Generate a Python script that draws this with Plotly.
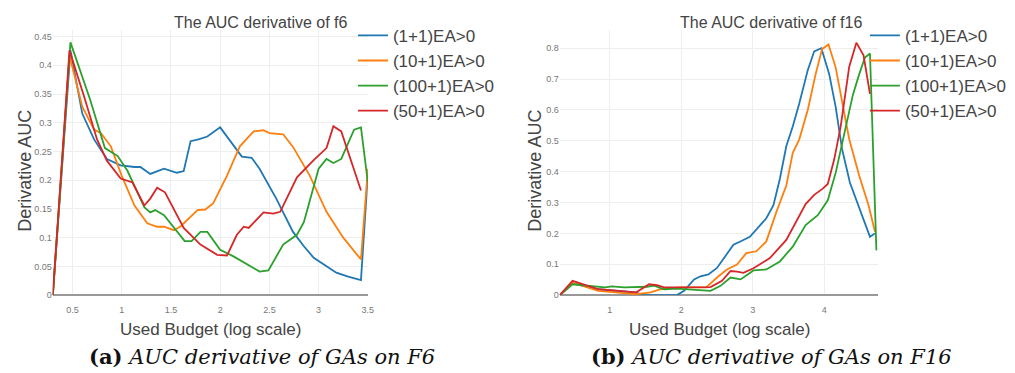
import plotly.graph_objects as go

W, H = 1015, 373

names = ["(1+1)EA>0", "(10+1)EA>0", "(100+1)EA>0", "(50+1)EA>0"]
colors = ["#1f77b4", "#ff7f0e", "#2ca02c", "#d62728"]

# ---------- f6 (left) ----------
f6_x_11 = [0.301, 0.48, 0.60, 0.72, 0.85, 0.99, 1.13, 1.19, 1.29, 1.43, 1.56, 1.63, 1.70, 1.78, 1.87,
           2.0, 2.22, 2.32, 2.40, 2.57, 2.74, 2.85, 2.95, 3.05, 3.18, 3.30, 3.43, 3.5]
f6_y_11 = [0, 0.426, 0.316, 0.271, 0.237, 0.226, 0.223, 0.223, 0.211, 0.22, 0.213, 0.216, 0.268, 0.271, 0.276,
           0.292, 0.241, 0.239, 0.22, 0.168, 0.11, 0.085, 0.065, 0.053, 0.039, 0.032, 0.026, 0.21]

f6_x_101 = [0.301, 0.47, 0.60, 0.72, 0.79, 0.89, 1.0, 1.13, 1.26, 1.36, 1.43, 1.53, 1.60, 1.77, 1.85, 1.93,
            2.07, 2.20, 2.34, 2.44, 2.50, 2.64, 2.74, 2.91, 3.08, 3.25, 3.43, 3.5]
f6_y_101 = [0, 0.417, 0.328, 0.288, 0.282, 0.259, 0.208, 0.156, 0.125, 0.119, 0.119, 0.113, 0.12, 0.148, 0.149, 0.16,
            0.208, 0.259, 0.285, 0.287, 0.282, 0.28, 0.258, 0.208, 0.145, 0.1, 0.062, 0.22]

f6_x_1001 = [0.301, 0.48, 0.68, 0.83, 0.96, 1.06, 1.23, 1.29, 1.34, 1.43, 1.64, 1.71, 1.80, 1.87, 2.0, 2.14,
             2.40, 2.49, 2.64, 2.78, 2.85, 3.0, 3.08, 3.15, 3.23, 3.36, 3.43, 3.5]
f6_y_1001 = [0, 0.44, 0.34, 0.256, 0.242, 0.216, 0.153, 0.144, 0.148, 0.139, 0.094, 0.094, 0.11, 0.11, 0.079, 0.067,
             0.041, 0.043, 0.088, 0.105, 0.127, 0.22, 0.237, 0.23, 0.237, 0.288, 0.292, 0.196]

f6_x_501 = [0.301, 0.47, 0.62, 0.75, 0.85, 0.99, 1.11, 1.23, 1.29, 1.36, 1.44, 1.63, 1.80, 1.97, 2.07, 2.17,
            2.24, 2.29, 2.44, 2.54, 2.61, 2.78, 2.95, 3.08, 3.15, 3.23, 3.43]
f6_y_501 = [0, 0.426, 0.345, 0.271, 0.234, 0.203, 0.196, 0.156, 0.168, 0.187, 0.179, 0.117, 0.088, 0.07, 0.069, 0.105,
            0.119, 0.117, 0.144, 0.142, 0.145, 0.205, 0.235, 0.256, 0.294, 0.285, 0.182]

# ---------- f16 (right) ----------
f16_x_11 = [0.301, 0.48, 0.84, 1.35, 1.48, 1.94, 2.04, 2.18, 2.27, 2.38, 2.5, 2.73, 2.82, 2.96, 3.19, 3.29,
            3.38, 3.47, 3.56, 3.65, 3.77, 3.86, 3.96, 4.07, 4.16, 4.25, 4.36, 4.49, 4.64, 4.71]
f16_y_11 = [0, 0.038, 0.019, 0.009, 0.0, 0.0, 0.014, 0.051, 0.061, 0.067, 0.088, 0.163, 0.173, 0.189, 0.249, 0.291,
            0.377, 0.483, 0.546, 0.62, 0.729, 0.79, 0.8, 0.716, 0.61, 0.473, 0.364, 0.281, 0.189, 0.2]

f16_x_101 = [0.301, 0.48, 0.84, 1.37, 1.57, 1.71, 1.99, 2.17, 2.35, 2.5, 2.64, 2.78, 2.91, 3.05, 3.19, 3.33,
             3.47, 3.56, 3.65, 3.77, 3.88, 3.97, 4.06, 4.16, 4.25, 4.35, 4.49, 4.62, 4.71]
f16_y_101 = [0, 0.04, 0.014, 0.003, 0.009, 0.019, 0.025, 0.025, 0.025, 0.057, 0.083, 0.099, 0.136, 0.142, 0.174, 0.269,
             0.355, 0.461, 0.504, 0.6, 0.716, 0.797, 0.812, 0.738, 0.632, 0.505, 0.387, 0.291, 0.205]

f16_x_1001 = [0.301, 0.48, 0.93, 1.03, 1.2, 1.52, 1.62, 1.76, 1.94, 2.13, 2.41, 2.55, 2.69, 2.83, 3.01, 3.19,
              3.38, 3.56, 3.74, 3.91, 4.05, 4.16, 4.28, 4.40, 4.49, 4.57, 4.64, 4.73]
f16_y_1001 = [0, 0.035, 0.025, 0.028, 0.025, 0.027, 0.031, 0.019, 0.021, 0.019, 0.014, 0.03, 0.057, 0.051, 0.08, 0.083,
              0.109, 0.157, 0.227, 0.259, 0.307, 0.396, 0.524, 0.648, 0.716, 0.77, 0.783, 0.145]

f16_x_501 = [0.301, 0.48, 0.84, 1.37, 1.55, 1.66, 1.76, 2.31, 2.41, 2.57, 2.69, 2.78, 2.87, 3.01, 3.24, 3.47,
             3.61, 3.74, 3.86, 3.98, 4.05, 4.14, 4.23, 4.35, 4.45, 4.55, 4.64]
f16_y_501 = [0, 0.046, 0.019, 0.009, 0.035, 0.032, 0.025, 0.025, 0.026, 0.046, 0.078, 0.076, 0.072, 0.087, 0.12, 0.179,
             0.24, 0.295, 0.325, 0.345, 0.36, 0.44, 0.546, 0.74, 0.818, 0.777, 0.652]

left_series = [(f6_x_11, f6_y_11), (f6_x_101, f6_y_101), (f6_x_1001, f6_y_1001), (f6_x_501, f6_y_501)]
right_series = [(f16_x_11, f16_y_11), (f16_x_101, f16_y_101), (f16_x_1001, f16_y_1001), (f16_x_501, f16_y_501)]

FONT = "Liberation Sans"
TXT = "#444"


def px(x):
    return x / W


def py(y):
    return 1 - y / H


fig = go.Figure()
for (xs, ys), n, c in zip(left_series, names, colors):
    fig.add_trace(go.Scatter(x=xs, y=ys, mode="lines", name=n, line=dict(color=c, width=1.8),
                             xaxis="x", yaxis="y", legend="legend"))
for (xs, ys), n, c in zip(right_series, names, colors):
    fig.add_trace(go.Scatter(x=xs, y=ys, mode="lines", name=n, line=dict(color=c, width=1.8),
                             xaxis="x2", yaxis="y2", legend="legend2"))

ydom = [py(291), py(22)]
axis_common = dict(showgrid=True, gridcolor="#eeeeee", gridwidth=1, showline=False, ticks="",
                   tickfont=dict(family=FONT, size=9, color="#777"), fixedrange=True)

fig.update_layout(
    width=W, height=H, autosize=False,
    margin=dict(l=0, r=0, t=0, b=0),
    paper_bgcolor="white", plot_bgcolor="white",
    font=dict(family=FONT, color=TXT),
    xaxis=dict(domain=[px(45), px(362)], range=[0.3, 3.5], tick0=0.5, dtick=0.5, zeroline=False,
               ticklabelstandoff=8, anchor="y", **axis_common),
    yaxis=dict(domain=ydom, range=[0, 0.462], dtick=0.05, zeroline=True, zerolinecolor="#999",
               zerolinewidth=1.5, anchor="x", **axis_common),
    xaxis2=dict(domain=[px(555), px(875)], range=[0.3, 4.75], tick0=1, dtick=1, zeroline=False,
                ticklabelstandoff=8, anchor="y2", **axis_common),
    yaxis2=dict(domain=ydom, range=[0, 0.86], dtick=0.1, zeroline=True, zerolinecolor="#999",
                zerolinewidth=1.5, anchor="x2", **axis_common),
    legend=dict(x=px(347), y=py(10), xanchor="left", yanchor="top", bgcolor="rgba(0,0,0,0)",
                font=dict(family=FONT, size=17, color=TXT), itemwidth=30, tracegroupgap=0),
    legend2=dict(x=px(862), y=py(10), xanchor="left", yanchor="top", bgcolor="rgba(0,0,0,0)",
                 font=dict(family=FONT, size=17, color=TXT), itemwidth=30, tracegroupgap=0),
    showlegend=True,
)

ann = []
# chart titles
ann.append(dict(text="The AUC derivative of f6", x=px(255), y=py(15)))
ann.append(dict(text="The AUC derivative of f16", x=px(768), y=py(15)))
for a in ann:
    a["font"] = dict(family=FONT, size=16, color=TXT)
# y axis titles
for xp in (17, 530):
    ann.append(dict(text="Derivative AUC", x=px(xp), y=py(165), textangle=-90,
                    font=dict(family=FONT, size=18, color=TXT)))
# x axis titles
for xp in (204, 716):
    ann.append(dict(text="Used Budget (log scale)", x=px(xp), y=py(326),
                    font=dict(family=FONT, size=17, color=TXT)))
# captions
ann.append(dict(text="<b>(a)</b> <i>AUC derivative of GAs on F6</i>", x=px(256), y=py(353),
                font=dict(family="DejaVu Serif", size=21, color="#111")))
ann.append(dict(text="<b>(b)</b> <i>AUC derivative of GAs on F16</i>", x=px(768), y=py(353),
                font=dict(family="DejaVu Serif", size=21, color="#111")))
for a in ann:
    a.update(xref="paper", yref="paper", showarrow=False, xanchor="center", yanchor="middle")
fig.update_layout(annotations=ann)

fig.write_html("out.html")
